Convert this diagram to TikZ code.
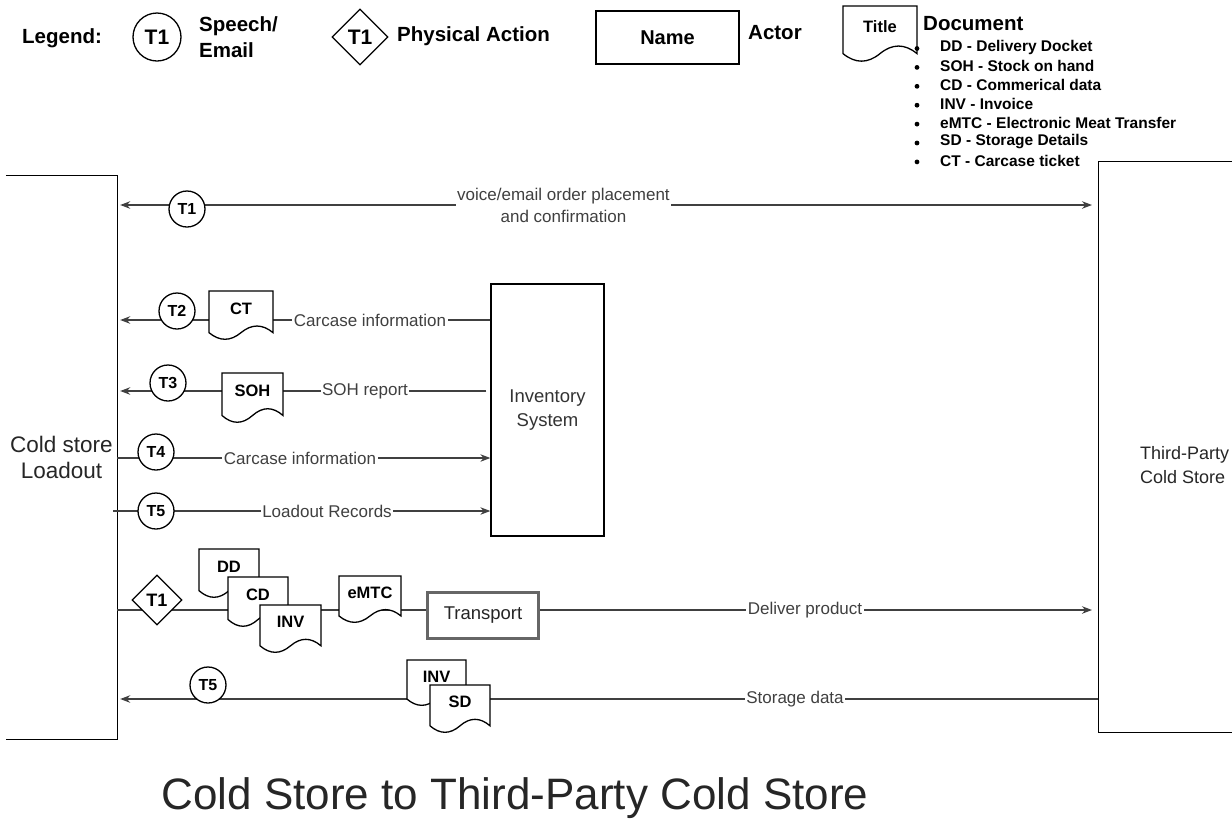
\documentclass[tikz,border=0pt]{standalone}
\usepackage{fontspec}
\setmainfont{Liberation Sans}
\usetikzlibrary{arrows.meta,calc,shapes.geometric}

\tikzset{
  conn/.style={draw=black!75, line width=1.2pt},
  tipend/.style={-{Stealth[length=10pt,width=7.5pt]}},
  lbl/.style={fill=white, text=black!75, inner sep=1.5pt, align=center, font=\fontsize{17}{22}\selectfont},
  tcirc/.style={circle, draw=black, line width=1.3pt, fill=white, minimum size=36pt, inner sep=0pt, font=\bfseries\fontsize{16}{18}\selectfont},
  tdiam/.style={diamond, draw=black, line width=1.3pt, fill=white, minimum width=50pt, minimum height=50pt, inner sep=0pt, font=\bfseries\fontsize{18}{20}\selectfont},
  actorbox/.style={draw=black, line width=1.3pt, fill=white, inner sep=0pt, align=center},
  docline/.style={draw=black, line width=1.3pt, fill=white},
  doctext/.style={inner sep=0pt, font=\bfseries\fontsize{16.5}{18}\selectfont},
  legtext/.style={inner sep=0pt, align=left, font=\bfseries\fontsize{20.5}{26}\selectfont},
  bullettext/.style={inner sep=0pt, anchor=west, font=\bfseries\fontsize{15.5}{18}\selectfont},
}

% #1 name, #2 x left, #3 y top, #4 width, #5 height, #6 text
\newcommand{\docshape}[6]{%
  \pgfmathsetmacro\dcXa{#2}%
  \pgfmathsetmacro\dcXb{#2+#4}%
  \pgfmathsetmacro\dcXfs{#2+5*#4/6}%
  \pgfmathsetmacro\dcXtt{#2+2*#4/3}%
  \pgfmathsetmacro\dcXh{#2+#4/2}%
  \pgfmathsetmacro\dcXot{#2+#4/3}%
  \pgfmathsetmacro\dcXos{#2+#4/6}%
  \pgfmathsetmacro\dcYa{#3}%
  \pgfmathsetmacro\dcYb{#3+0.85*#5}%
  \pgfmathsetmacro\dcYu{#3+0.67*#5}%
  \pgfmathsetmacro\dcYd{#3+1.03*#5}%
  \pgfmathsetmacro\dcYt{#3+0.36*#5}%
  \path[docline] (\dcXa,\dcYa) -- (\dcXb,\dcYa) -- (\dcXb,\dcYb)
     .. controls (\dcXfs,\dcYu) and (\dcXtt,\dcYu) .. (\dcXh,\dcYb)
     .. controls (\dcXot,\dcYd) and (\dcXos,\dcYd) .. (\dcXa,\dcYb) -- cycle;
  \node[doctext] (#1) at (\dcXh,\dcYt) {#6};%
}

\begin{document}
\begin{tikzpicture}[x=1pt,y=-1pt]
\useasboundingbox (0,0) rectangle (1232,831);

% ---------- Legend ----------
\node[legtext, anchor=west] (legend) at (22,38) {Legend:};
\node[tcirc, minimum size=48pt, font=\bfseries\fontsize{21}{22}\selectfont] (legc) at (157,37) {T1};
\node[legtext, anchor=west] (legct) at (199,37) {Speech/\\Email};
\node[tdiam, minimum width=56pt, minimum height=56pt, font=\bfseries\fontsize{21}{22}\selectfont] (legd) at (360,37) {T1};
\node[legtext, anchor=west] (legdt) at (397,36) {Physical Action};
\node[actorbox, minimum width=143pt, minimum height=53pt, font=\bfseries\fontsize{20}{22}\selectfont] (legn) at (667.5,37.5) {Name};
\node[legtext, anchor=west] (legnt) at (748,33) {Actor};
\docshape{legdoc}{843}{6}{74}{56}{Title}
\node[legtext, anchor=west] (legdoct) at (923,24) {Document};
\foreach \i/\t in {0/DD - Delivery Docket,1/SOH - Stock on hand,2/CD - Commerical data,3/INV - Invoice,4/eMTC - Electronic Meat Transfer,5/SD - Storage Details,6/CT - Carcase ticket}{
  \node[bullettext] (bl\i) at (940,{47.5+18.9*\i}) {\t};
  \fill (917,{48.5+18.9*\i}) circle (2.4pt);
}

% ---------- Actors ----------
\node[draw=none, minimum width=111pt, minimum height=563pt, inner sep=0pt, align=center,
      font=\fontsize{22.5}{26}\selectfont, text=black!85] (lb) at (61.5,457.5) {Cold store\\Loadout};
\draw[line width=1.3pt] (lb.north west) -- (lb.north east) -- (lb.south east) -- (lb.south west);

\node[actorbox, minimum width=113pt, minimum height=252pt, font=\fontsize{18.5}{24}\selectfont, text=black!80] (inv) at (547.5,410) {Inventory\\System};

\node[actorbox, minimum width=176pt, minimum height=571pt, anchor=north west] (rb) at (1098,161) {};
\node[inner sep=0pt, anchor=west, align=left, font=\fontsize{18}{24}\selectfont, text=black!85] (rbt) at (1140,465) {Third-Party\\Cold Store};

% row coordinates
\coordinate (r1) at (0,205);
\coordinate (r2) at (0,320);
\coordinate (r3) at (0,391);
\coordinate (r4) at (0,458);
\coordinate (r5) at (0,511);
\coordinate (r6) at (0,610);
\coordinate (r7) at (0,699);

% ---------- Connectors ----------
\draw[conn, {Stealth[length=10pt,width=7.5pt]}-{Stealth[length=10pt,width=7.5pt]}, shorten <=3pt, shorten >=6pt] (lb.east |- r1) -- (rb.west |- r1)
  node[lbl, pos=0.455] (l1) {voice/email order placement\\and confirmation};
\draw[conn, tipend, shorten >=3pt] (inv.west |- r2) -- (lb.east |- r2);
\node[lbl] (l2) at (370,320) {Carcase information};
\draw[conn, tipend, shorten >=3pt] ($(inv.west |- r3)+(-4,0)$) -- (lb.east |- r3);
\node[lbl] (l3) at (365,391) {SOH report};
\draw[conn, tipend] (lb.east |- r4) -- (inv.west |- r4);
\node[lbl] (l4) at (300,458) {Carcase information};
\draw[conn, tipend] ($(lb.east |- r5)+(-4,0)$) -- (inv.west |- r5);
\node[lbl] (l5) at (327,511) {Loadout Records};
\draw[conn, tipend, shorten >=6pt] (lb.east |- r6) -- (rb.west |- r6);
\node[lbl] (l6) at (805,610) {Deliver product};
\draw[conn, tipend, shorten >=3pt] (rb.west |- r7) -- (lb.east |- r7);
\node[lbl] (l7) at (795,699) {Storage data};

% ---------- Markers and documents ----------
\node[tcirc] (c1) at (187,209) {T1};

\node[tcirc] (c2) at (177,311) {T2};
\docshape{ct}{209}{291}{64}{49}{CT}

\node[tcirc] (c3) at (168,383) {T3};
\docshape{soh}{222}{373}{61}{50}{SOH}

\node[tcirc] (c4) at (156,452) {T4};
\node[tcirc] (c5) at (156,511) {T5};

\node[tdiam] (d1) at (157,600) {T1};
\docshape{dd}{199}{549}{60}{49}{DD}
\docshape{cd}{228}{577}{60}{50}{CD}
\docshape{inva}{260}{605}{61}{48}{INV}
\docshape{emtc}{339}{576}{62}{47}{eMTC}
\node[draw=black!60, line width=2.4pt, fill=white, minimum width=111pt, minimum height=46pt, inner sep=0pt,
      font=\fontsize{18.5}{20}\selectfont, text=black!85] (tr) at (483,615.5) {Transport};

\node[tcirc] (c7) at (208,685) {T5};
\docshape{invb}{407}{660}{59}{46}{INV}
\docshape{sd}{430}{685}{60}{48}{SD}

% ---------- Title ----------
\node[inner sep=0pt, font=\fontsize{44}{48}\selectfont, text=black!85] (title) at (515,798) {Cold Store to Third-Party Cold Store};
\end{tikzpicture}
\end{document}
